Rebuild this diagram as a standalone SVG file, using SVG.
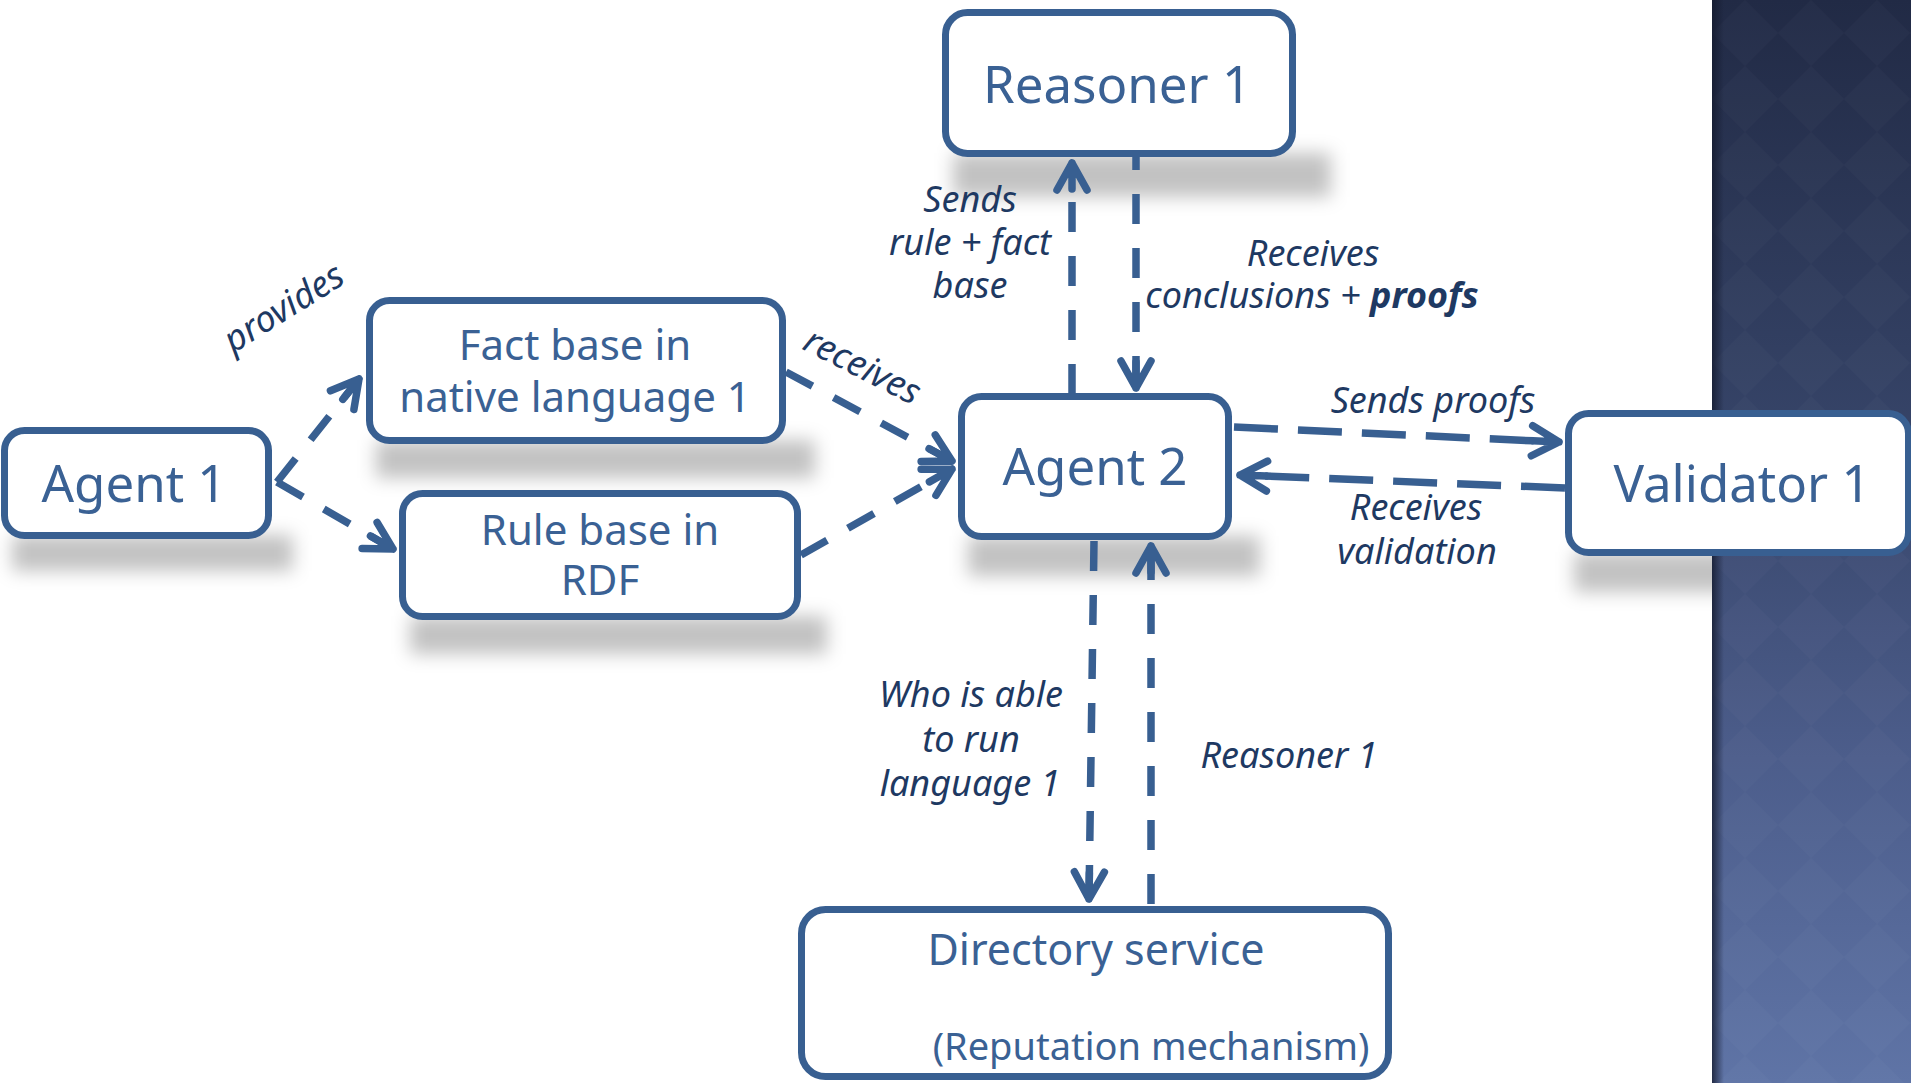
<svg xmlns="http://www.w3.org/2000/svg" width="1911" height="1083" viewBox="0 0 1911 1083">
<style>
.box{fill:#fff;stroke:#385f91;stroke-width:7}
.shadow{fill:#000;fill-opacity:0.24;filter:url(#blur)}
.title{font-family:"Noto Sans","DejaVu Sans",sans-serif;fill:#3a6194;text-anchor:middle}
.lbl{font-family:"Noto Sans","DejaVu Sans",sans-serif;font-style:italic;fill:#1e3962;font-size:36px;text-anchor:middle}
.conn{fill:none;stroke:#385f91;stroke-width:7.5;marker-end:url(#ah)}
.d1{stroke-dasharray:30 24}
.d2{stroke-dasharray:44 20}
</style>
<defs>
<filter id="blur" x="-20%" y="-100%" width="140%" height="300%"><feGaussianBlur stdDeviation="9"/></filter>
<linearGradient id="panel" x1="0" y1="0" x2="0" y2="1">
<stop offset="0" stop-color="#212a45"/>
<stop offset="0.4" stop-color="#364468"/>
<stop offset="0.7" stop-color="#4c5d8b"/>
<stop offset="1" stop-color="#5f74a6"/>
</linearGradient>
<linearGradient id="edge" x1="0" y1="0" x2="1" y2="0">
<stop offset="0" stop-color="#141a2e" stop-opacity="0.8"/>
<stop offset="1" stop-color="#141a2e" stop-opacity="0"/>
</linearGradient>
<pattern id="dia" width="66" height="66" patternUnits="userSpaceOnUse" x="1712" y="0">
<polygon points="33,0 66,33 33,66 0,33" fill="#ffffff" fill-opacity="0.02"/>
</pattern>
<marker id="ah" markerUnits="userSpaceOnUse" markerWidth="80" markerHeight="80" viewBox="-40 -40 80 80" refX="0" refY="0" orient="auto" overflow="visible">
<path d="M-27 -15 L0 0 L-27 15 M-26 0 L0 0" fill="none" stroke="#385f91" stroke-width="7.5" stroke-linecap="round" stroke-linejoin="round"/>
</marker>
</defs>
<rect x="0" y="0" width="1911" height="1083" fill="#fff"/>
<g id="shadows">
<rect class="shadow" x="12" y="535" width="281" height="36"/>
<rect class="shadow" x="376" y="440" width="439" height="38"/>
<rect class="shadow" x="410" y="616" width="417" height="38"/>
<rect class="shadow" x="953" y="153" width="378" height="44"/>
<rect class="shadow" x="968" y="536" width="292" height="40"/>
<rect class="shadow" x="1574" y="552" width="336" height="40"/>
</g>
<g id="panel-bg">
<rect x="1712" y="0" width="199" height="1083" fill="url(#panel)"/>
<rect x="1712" y="0" width="199" height="1083" fill="url(#dia)"/>
<rect x="1712" y="0" width="12" height="1083" fill="url(#edge)"/>
</g>
<g id="connectors">
<path class="conn d1" d="M277 482 L359 379"/>
<path class="conn d1" d="M277 482 L393 549"/>
<path class="conn d1" d="M786 372 L952 461"/>
<path class="conn d1" d="M801 555 L952 469"/>
<path class="conn d1" d="M1072 394 L1072 163"/>
<path class="conn d1" d="M1136 140 L1136 388"/>
<path class="conn d2" d="M1234 427 L1559 442"/>
<path class="conn d2" d="M1565 488 L1240 475"/>
<path class="conn d1" d="M1094 541 L1089 899"/>
<path class="conn d1" d="M1151 904 L1151 546"/>
</g>
<g id="agent1">
<rect class="box" x="4.5" y="430.5" width="264" height="105" rx="20"/>
<text class="title" x="134" y="502" font-size="51">Agent 1</text>
</g>
<g id="factbase">
<rect class="box" x="369.5" y="300.5" width="413" height="140" rx="20"/>
<text class="title" x="575" y="360" font-size="42">Fact base in</text>
<text class="title" x="575" y="412" font-size="42">native language 1</text>
</g>
<g id="rulebase">
<rect class="box" x="402.5" y="493.5" width="395" height="123" rx="20"/>
<text class="title" x="600" y="545" font-size="42">Rule base in</text>
<text class="title" x="600" y="595" font-size="42">RDF</text>
</g>
<g id="reasoner1">
<rect class="box" x="945.5" y="12.5" width="347" height="141" rx="22"/>
<text class="title" x="1117" y="103" font-size="51">Reasoner 1</text>
</g>
<g id="agent2">
<rect class="box" x="961.5" y="396.5" width="267" height="140" rx="20"/>
<text class="title" x="1095" y="485" font-size="51">Agent 2</text>
</g>
<g id="validator1">
<rect class="box" x="1568.5" y="413.5" width="340" height="139" rx="20"/>
<text class="title" x="1742" y="502" font-size="51">Validator 1</text>
</g>
<g id="directory">
<rect class="box" x="801.5" y="909.5" width="587" height="167" rx="24"/>
<text class="title" x="1096" y="965" font-size="43">Directory service</text>
<text class="title" x="1151" y="1060" font-size="38">(Reputation mechanism)</text>
</g>
<g id="labels">
<text class="lbl" transform="translate(290,318) rotate(-32)">provides</text>
<text class="lbl" transform="translate(857,377) rotate(27)">receives</text>
<text class="lbl" x="970" y="212">Sends</text>
<text class="lbl" x="970" y="255">rule + fact</text>
<text class="lbl" x="970" y="298">base</text>
<text class="lbl" x="1313" y="266">Receives</text>
<text class="lbl" x="1312" y="308">conclusions + <tspan font-weight="bold">proofs</tspan></text>
<text class="lbl" x="1433" y="413">Sends proofs</text>
<text class="lbl" x="1416" y="520">Receives</text>
<text class="lbl" x="1417" y="564">validation</text>
<text class="lbl" x="971" y="707">Who is able</text>
<text class="lbl" x="971" y="752">to run</text>
<text class="lbl" x="970" y="796">language 1</text>
<text class="lbl" x="1289" y="768">Reasoner 1</text>
</g>
</svg>
